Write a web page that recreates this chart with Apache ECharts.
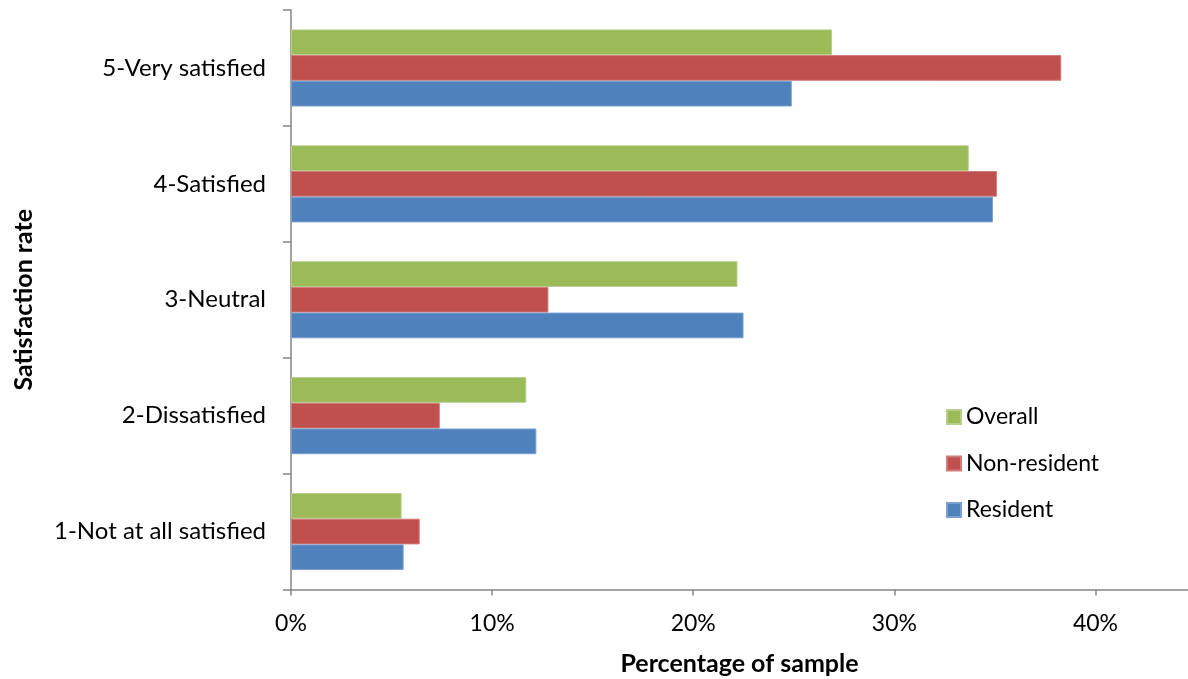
<!DOCTYPE html>
<html>
<head>
<meta charset="utf-8">
<script src="https://cdn.jsdelivr.net/npm/echarts@6/dist/echarts.min.js"></script>
<style>
  html, body { margin: 0; padding: 0; background: #fff; }
  #chart { width: 1188px; height: 679px; }
</style>
</head>
<body>
<div id="chart"></div>
<script>
// Satisfaction levels, bottom to top on the category axis
const categories = ['1-Not at all satisfied', '2-Dissatisfied', '3-Neutral', '4-Satisfied', '5-Very satisfied'];

// Share of each group's sample (%) per satisfaction level
const resident    = [5.6, 12.2, 22.5, 34.9, 24.9];
const nonResident = [6.4, 7.4, 12.8, 35.1, 38.3];
const overall     = [5.5, 11.7, 22.2, 33.7, 26.9];

const xTicks = [0, 10, 20, 30, 40];
const xMax = 44.6;

const font = 'Lato, "Open Sans", sans-serif';
const axisGray = '#868686';

const chart = echarts.init(document.getElementById('chart'), null, { renderer: 'canvas' });

function barSeries(name, data, color, edge) {
  return {
    name: name,
    type: 'bar',
    data: data,
    barWidth: 25.7,
    barGap: '0%',
    itemStyle: { color: color, borderColor: edge, borderWidth: 1 }
  };
}

chart.setOption({
  animation: false,
  textStyle: { fontFamily: font },
  grid: { left: 291, top: 10, height: 579.5, right: 0, containLabel: false, outerBoundsMode: 'none' },
  legend: {
    data: ['Overall', 'Non-resident', 'Resident'],
    orient: 'vertical',
    left: 946,
    top: 405,
    padding: 0,
    itemWidth: 14,
    itemHeight: 14,
    itemGap: 22.5,
    icon: 'rect',
    textStyle: { fontSize: 23, lineHeight: 24, color: '#000', fontFamily: font }
  },
  xAxis: {
    type: 'value',
    min: 0,
    max: xMax,
    interval: 10,
    name: 'Percentage of sample',
    nameLocation: 'middle',
    nameGap: 62,
    nameTextStyle: { fontSize: 25, fontWeight: 'bold', color: '#000', fontFamily: font },
    axisLine: { show: true, lineStyle: { color: axisGray, width: 1.5 } },
    axisTick: { show: true, length: 6, lineStyle: { color: axisGray, width: 1.5 } },
    splitLine: { show: false },
    axisLabel: {
      fontSize: 23,
      color: '#000',
      margin: 23,
      showMaxLabel: false,
      formatter: function (v) { return xTicks.indexOf(v) >= 0 ? v + '%' : ''; }
    }
  },
  yAxis: {
    type: 'category',
    data: categories,
    name: 'Satisfaction rate',
    nameLocation: 'middle',
    nameGap: 255,
    nameRotate: 90,
    nameTextStyle: { fontSize: 25, fontWeight: 'bold', color: '#000', fontFamily: font },
    axisLine: { show: true, lineStyle: { color: axisGray, width: 1.5 } },
    axisTick: { show: true, length: 8, lineStyle: { color: axisGray, width: 1.5 } },
    axisLabel: { fontSize: 24, color: '#000', margin: 25 }
  },
  // listed top to bottom within each category group
  series: [
    barSeries('Overall', overall, '#9BBB59', '#B7CF8A'),
    barSeries('Non-resident', nonResident, '#C0504D', '#D07C79'),
    barSeries('Resident', resident, '#4F81BD', '#7A9FD0')
  ]
});
</script>
</body>
</html>
